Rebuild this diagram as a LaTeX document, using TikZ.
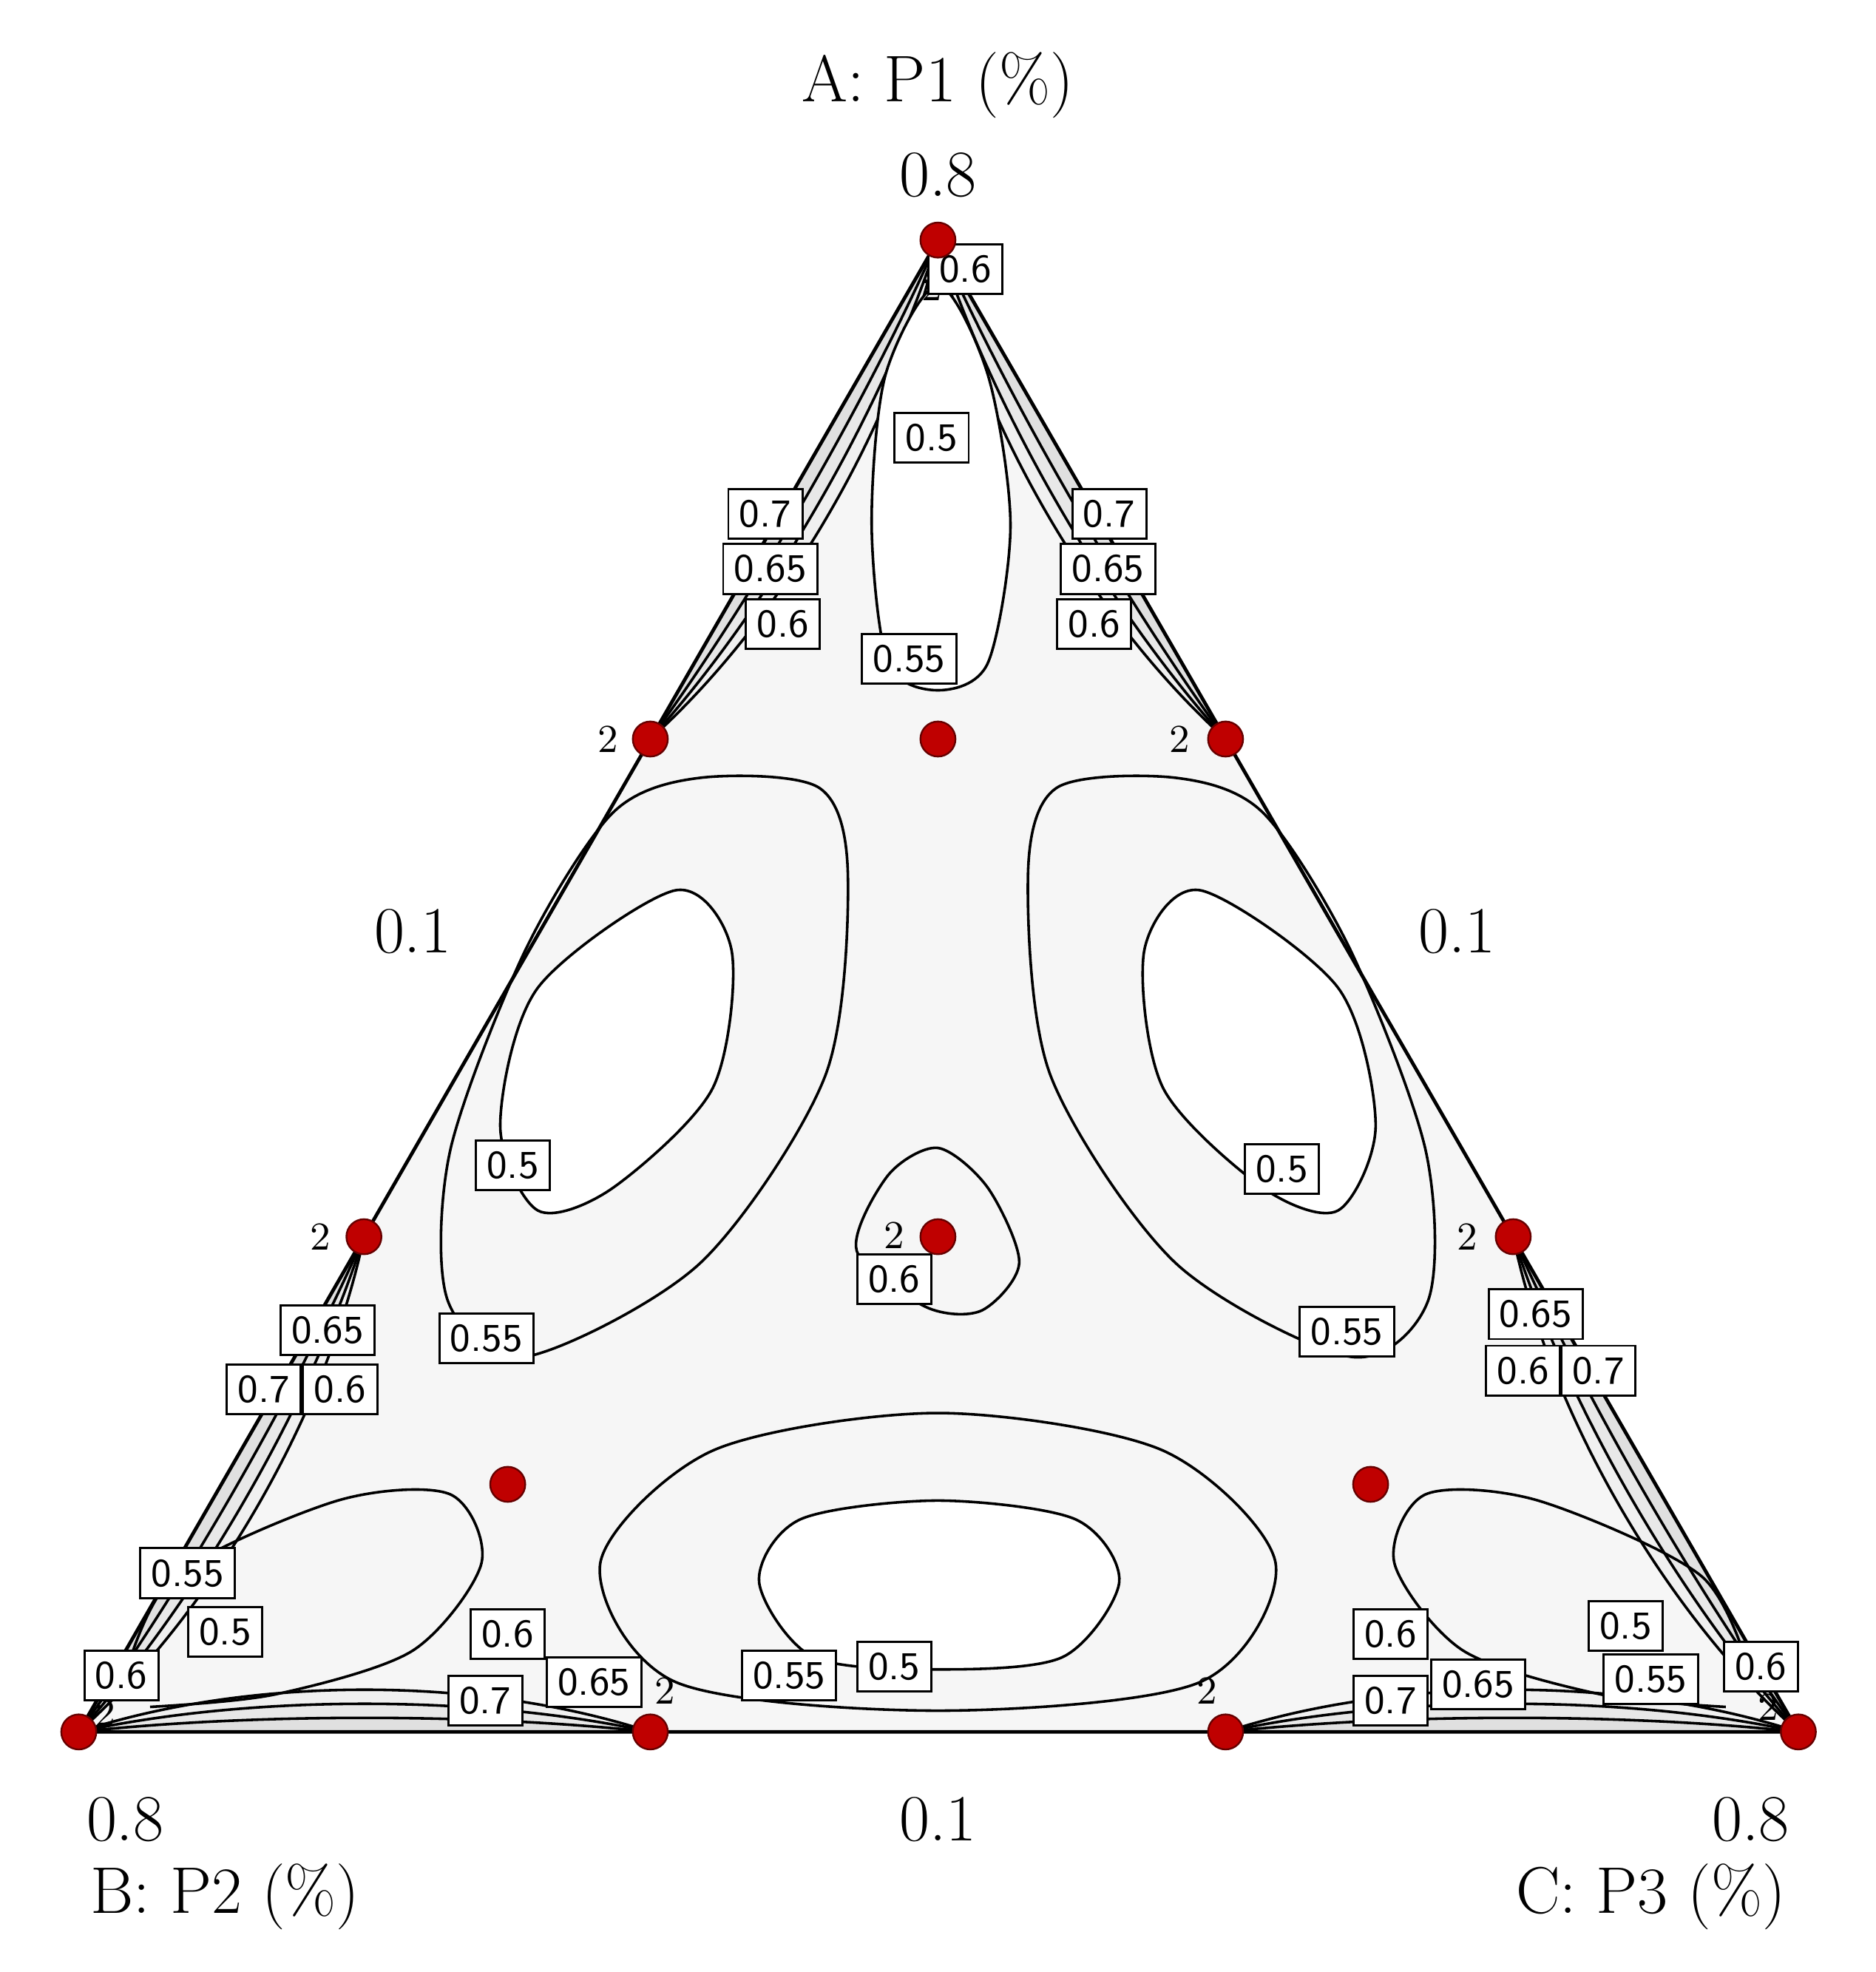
\documentclass[tikz,border=0pt]{standalone}
\usetikzlibrary{calc}
\begin{document}
\begin{tikzpicture}[x=0.01cm,y=-0.01cm,
  dot/.style={circle,fill=red!75!black,draw=red!40!black,inner sep=0,minimum size=0.28cm},
  lab/.style={draw,fill=white,font=\sffamily\fontsize{9}{9}\selectfont,inner sep=2.5pt,line width=0.5pt},
  two/.style={font=\fontsize{9}{9}\selectfont},
  big/.style={font=\fontsize{15}{15}\selectfont},
  ct/.style={line width=0.6pt}]
\useasboundingbox (0,0) rectangle (1500,1577);
\coordinate (A) at (750,192); \coordinate (B) at (63,1385); \coordinate (C) at (1438,1385);
\coordinate (L1) at (520,591); \coordinate (L2) at (291,989);
\coordinate (R1) at (980,591); \coordinate (R2) at (1210,989);
\coordinate (M1) at (520,1385); \coordinate (M2) at (980,1385);
\fill[gray!7] (A)--(B)--(C)--cycle;
% edge bands
\foreach \P/\Q/\nx/\ny in {A/L1/0.866/0.5, L2/B/0.866/0.5, A/R1/-0.866/0.5, R2/C/-0.866/0.5, B/M1/0/-1, M2/C/0/-1}{
  \foreach \d/\g in {45/gray!12,30/gray!18,15/gray!24}{
    \fill[\g] (\P) .. controls ($(\P)!0.3!(\Q)+(\nx*\d,\ny*\d)$) and ($(\P)!0.7!(\Q)+(\nx*\d,\ny*\d)$) .. (\Q) -- cycle;
    \draw[ct] (\P) .. controls ($(\P)!0.3!(\Q)+(\nx*\d,\ny*\d)$) and ($(\P)!0.7!(\Q)+(\nx*\d,\ny*\d)$) .. (\Q);
  }
}
\draw[line width=0.8pt] (A)--(B)--(C)--cycle;
% interior contours
\draw[ct,fill=white] plot[smooth cycle] coordinates {(750,228)(790,300)(808,420)(790,530)(750,552)(710,530)(697,420)(708,300)};
\draw[ct] plot[smooth cycle] coordinates {(560,622)(655,630)(678,700)(660,860)(560,1010)(420,1085)(358,1040)(360,920)(420,760)(490,650)};
\draw[ct,fill=white] plot[smooth cycle] coordinates {(540,712)(585,760)(570,870)(490,950)(430,968)(400,900)(430,790)};
\draw[ct] plot[smooth cycle] coordinates {(940,622)(845,630)(822,700)(840,860)(940,1010)(1080,1085)(1142,1040)(1140,920)(1080,760)(1010,650)};
\draw[ct,fill=white] plot[smooth cycle] coordinates {(960,712)(915,760)(930,870)(1010,950)(1070,968)(1100,900)(1070,790)};
\draw[ct] plot[smooth cycle] coordinates {(750,1130)(930,1160)(1020,1250)(960,1345)(750,1368)(540,1345)(480,1250)(570,1160)};
\draw[ct,fill=white] plot[smooth cycle] coordinates {(750,1200)(860,1215)(895,1265)(850,1325)(750,1335)(650,1325)(607,1265)(640,1215)};
\draw[ct] plot[smooth cycle] coordinates {(750,918)(790,950)(815,1010)(785,1048)(740,1045)(685,1000)(710,940)};
\draw[ct] plot[smooth] coordinates {(100,1340)(140,1260)(270,1200)(360,1195)(385,1250)(330,1320)(220,1355)(120,1365)};
\draw[ct] plot[smooth] coordinates {(1400,1340)(1360,1260)(1230,1200)(1140,1195)(1115,1250)(1170,1320)(1280,1355)(1380,1365)};
% labels
\node[two] at (745,230) {2}; \node[lab] at (772,215) {0.6};
\node[lab] at (745,350) {0.5};
\node[lab] at (727,527) {0.55};
\node[lab] at (612,411) {0.7}; \node[lab] at (616,455) {0.65}; \node[lab] at (626,499) {0.6};
\node[lab] at (887,411) {0.7}; \node[lab] at (886,455) {0.65}; \node[lab] at (875,499) {0.6};
\node[lab] at (410,932) {0.5}; \node[lab] at (389,1070) {0.55};
\node[lab] at (1025,935) {0.5}; \node[lab] at (1077,1065) {0.55};
\node[lab] at (715,1023) {0.6};
\node[lab] at (262,1064) {0.65}; \node[lab] at (211,1111) {0.7}; \node[lab] at (272,1111) {0.6};
\node[lab] at (1228,1051) {0.65}; \node[lab] at (1218,1096) {0.6}; \node[lab] at (1278,1096) {0.7};
\node[lab] at (150,1258) {0.55}; \node[lab] at (180,1305) {0.5};
\node[lab] at (97,1340) {0.6};
\node[lab] at (406,1307) {0.6}; \node[lab] at (388,1360) {0.7}; \node[lab] at (475,1345) {0.65};
\node[lab] at (631,1340) {0.55}; \node[lab] at (715,1333) {0.5};
\node[lab] at (1112,1307) {0.6}; \node[lab] at (1112,1360) {0.7}; \node[lab] at (1182,1347) {0.65};
\node[lab] at (1300,1300) {0.5}; \node[lab] at (1320,1343) {0.55}; \node[lab] at (1408,1333) {0.6};
\node[two] at (486,591) {2}; \node[two] at (943,591) {2};
\node[two] at (256,989) {2}; \node[two] at (715,988) {2}; \node[two] at (1173,989) {2};
\node[two] at (532,1352) {2}; \node[two] at (965,1352) {2};
\node[two] at (84,1370) {2}; \node[two] at (1414,1365) {2};
% dots
\foreach \p in {(750,192),(520,591),(750,591),(980,591),(291,989),(750,989),(1210,989),(406,1187),(1096,1187),(63,1385),(520,1385),(980,1385),(1438,1385)}
  \node[dot] at \p {};
% axis texts
\node[big] at (750,68) {A: P1 (\%)};
\node[big] at (750,140) {0.8};
\node[big] at (330,745) {0.1}; \node[big] at (1165,745) {0.1};
\node[big] at (100,1455) {0.8}; \node[big] at (750,1455) {0.1}; \node[big] at (1400,1455) {0.8};
\node[big] at (180,1517) {B: P2 (\%)}; \node[big] at (1320,1517) {C: P3 (\%)};
\end{tikzpicture}
\end{document}
